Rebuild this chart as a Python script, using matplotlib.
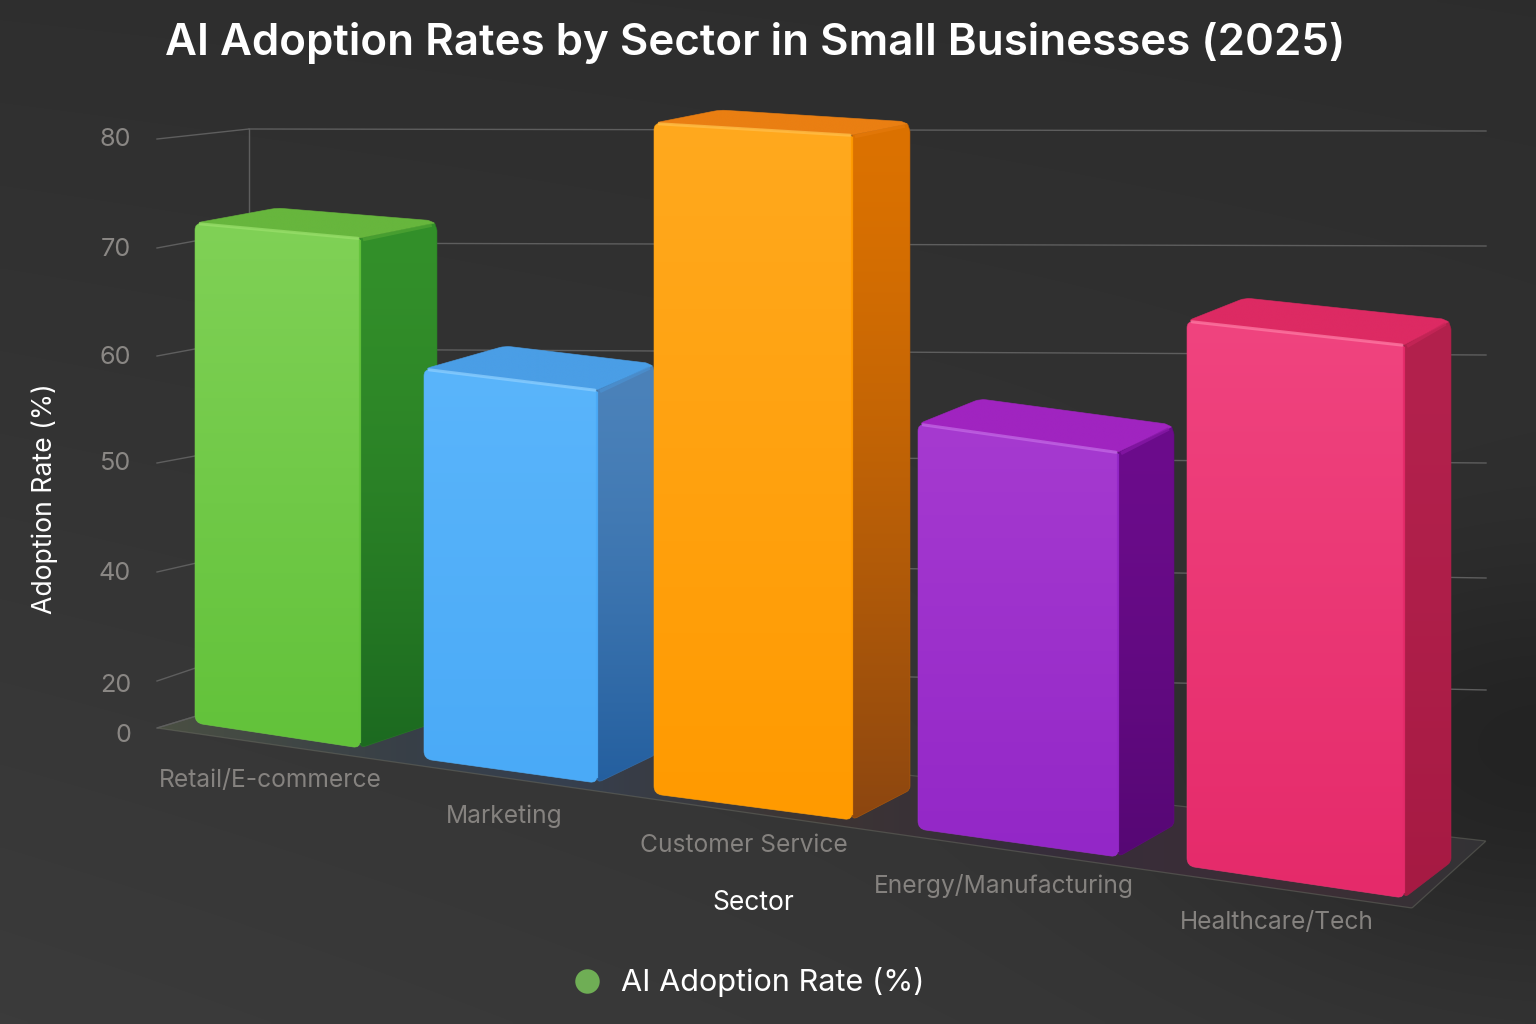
import numpy as np
import matplotlib
matplotlib.use('Agg')
import matplotlib.pyplot as plt
from matplotlib.colors import to_rgb
from matplotlib.patches import PathPatch
from matplotlib.path import Path

plt.rcParams['font.family'] = ['Inter', 'DejaVu Sans']

# chart data
sectors = ['Retail/E-commerce', 'Marketing', 'Customer Service', 'Energy/Manufacturing', 'Healthcare/Tech']
adoption_rates = [72, 58, 82, 53, 63]
tick_labels = ['0', '20', '40', '50', '60', '70', '80']

# bar colours: front top, front bottom, side top, side bottom, top face
front_top = ['#80d156', '#5ab5fb', '#ffa91e', '#a63ad0', '#f0447f']
front_bottom = ['#62c23a', '#4aaaf7', '#ff9a00', '#9327c7', '#e52a6a']
side_top = ['#33902a', '#4b82ba', '#dc7200', '#6c0c8c', '#b3214d']
side_bottom = ['#1c6a20', '#245f9f', '#8c4610', '#560774', '#a61a43']
top_face = ['#67b63d', '#4a9ee6', '#ea7f12', '#a024c0', '#dd2a63']
highlight = ['#9be06c', '#8fd0ff', '#ffc04d', '#c56be6', '#ff7ea6']

# scene layout in pixels, all bars sit on a slanted floor
left_x = [195, 424, 654, 918, 1187]
right_x = [360, 597, 852, 1118, 1404]
side_x = [437, 655, 910, 1174, 1451]
floor_left = [723, 759, 794, 829, 866]
floor_right = [748, 783, 820, 857, 898]
side_floor = [722, 755, 790, 825, 862]
px_per_unit = [6.944, 6.724, 8.183, 7.642, 8.651]
right_stretch = [1.02, 1.008, 1.021, 1.0, 1.015]
top_back_rise = [17, 26, 13, 27, 25]
back_dx = [82, 81, 66, 62, 58]
back_dy = [15, 23, 13, 25, 23]

# gridlines: y at the outer tick, where the side wall meets the back wall, back wall start and end
grid_outer = [728, 681, 572, 463, 356, 248, 139]
grid_corner = [700, 650, 551, 446, 339, 231, 129]
grid_back = [700, 662, 558, 453, 349, 243, 129]
grid_far = [841, 690, 578, 463, 355, 246, 131]
tick_label_y = [733, 683, 572, 462, 355, 247, 138]
category_xy = [(270, 778), (504, 814), (744, 843), (1004, 884), (1277, 921)]
floor_corners = [(157, 728), (249, 700), (1486, 841), (1412, 908)]

W, H = 1536, 1024


def rounded_path(points, radii):
    # closed polygon with quadratic rounded corners
    pts = np.array(points, dtype=float)
    n = len(pts)
    verts, codes = [], []
    for i in range(n):
        p, prev, nxt = pts[i], pts[i - 1], pts[(i + 1) % n]
        r = radii[i]
        a = p + (prev - p) / np.linalg.norm(prev - p) * r
        b = p + (nxt - p) / np.linalg.norm(nxt - p) * r
        verts.append(a)
        codes.append(Path.MOVETO if i == 0 else Path.LINETO)
        verts += [p, b]
        codes += [Path.CURVE3, Path.CURVE3]
    verts.append(verts[0])
    codes.append(Path.CLOSEPOLY)
    return Path(verts, codes)


def fill_face(ax, points, radii, top, bottom, z, power=1.0):
    # gradient image clipped to a rounded face
    path = rounded_path(points, radii)
    xs = [p[0] for p in points]
    ys = [p[1] for p in points]
    t = np.linspace(0, 1, 256)[:, None, None] ** power
    img = (1 - t) * np.array(to_rgb(top)) + t * np.array(to_rgb(bottom))
    im = ax.imshow(img, extent=(min(xs), max(xs), max(ys), min(ys)), aspect='auto',
                   interpolation='bilinear', zorder=z)
    patch = PathPatch(path, fc='none', ec='none', transform=ax.transData)
    ax.add_patch(patch)
    im.set_clip_path(patch)
    # soft edge, clipped images come out jagged otherwise
    mid = tuple((np.array(to_rgb(top)) + np.array(to_rgb(bottom))) / 2)
    ax.add_patch(PathPatch(path, fc='none', ec=mid, lw=0.5, alpha=0.8, zorder=z + 0.01))


def blend(c1, c2, w=0.5):
    return tuple(np.array(to_rgb(c1)) * (1 - w) + np.array(to_rgb(c2)) * w)


fig = plt.figure(figsize=(W / 100, H / 100), dpi=100)
ax = fig.add_axes([0, 0, 1, 1])
ax.axis('off')

# background, lighter towards the lower left and darkest on the right
yy, xx = np.mgrid[0:1:256j, 0:1:384j]
glow = np.clip(0.5 * yy + 0.28 * (1 - xx) * yy + 0.12 * (1 - xx), 0, 1)
dark = np.exp(-(((xx - 1.0) / 0.22) ** 2 + ((yy - 0.74) / 0.2) ** 2))
bg = 0.176 + 0.062 * glow - 0.06 * dark
ax.imshow(np.dstack([bg, bg, bg]), extent=(0, W, H, 0), aspect='auto',
          interpolation='bilinear', zorder=0)

# floor with colour picked up from the bars
floor_path = rounded_path(floor_corners, [1, 1, 1, 1])
floor_stops = [157, 400, 560, 800, 1020, 1300, 1486]
floor_r = [0.29, 0.22, 0.21, 0.24, 0.21, 0.24, 0.20]
floor_g = [0.31, 0.25, 0.25, 0.21, 0.18, 0.18, 0.20]
floor_b = [0.26, 0.28, 0.31, 0.20, 0.23, 0.21, 0.21]
fx = np.linspace(157, 1486, 256)
floor_img = np.dstack([np.interp(fx, floor_stops, c)[None, :] for c in (floor_r, floor_g, floor_b)])
im = ax.imshow(floor_img, extent=(157, 1486, 908, 700), aspect='auto', zorder=1)
floor_patch = PathPatch(floor_path, fc='none', ec='none')
ax.add_patch(floor_patch)
im.set_clip_path(floor_patch)
ax.add_patch(PathPatch(floor_path, fc='none', ec='#6a6c62', lw=0.9, alpha=0.5, zorder=1.2))

# wall and grid lines
line_kw = dict(color='#5e5e5e', lw=1.0, zorder=1.5)
wall_x = 249
for i in range(len(tick_labels)):
    ax.plot([157, wall_x], [grid_outer[i], grid_corner[i]], **line_kw)
    if i > 0:
        ax.plot([wall_x, 1486], [grid_back[i], grid_far[i]], **line_kw)
    ax.text(131, tick_label_y[i] + 2, tick_labels[i], ha='right', va='center',
            fontsize=18.2, color='#8a8784')
ax.plot([wall_x, wall_x], [grid_back[-1], grid_corner[0]], **line_kw)

# bars, drawn from far left to near right so that later ones overlap
for i, value in enumerate(adoption_rates):
    z = 3 + i
    height = value * px_per_unit[i]
    fl_top = np.array([left_x[i], floor_left[i] - height])
    fr_top = np.array([right_x[i], floor_right[i] - height * right_stretch[i]])
    br_top = np.array([side_x[i], fr_top[1] - top_back_rise[i]])
    bl_top = np.array([left_x[i] + back_dx[i], fl_top[1] - back_dy[i]])
    fl_bot = np.array([left_x[i], floor_left[i]])
    fr_bot = np.array([right_x[i], floor_right[i]])
    br_bot = np.array([side_x[i], side_floor[i]])

    # the far right corner is shared, both faces meet on the middle of its curve
    r = 9.0
    on_side = br_top + (br_bot - br_top) / np.linalg.norm(br_bot - br_top) * r
    on_top = br_top + (bl_top - br_top) / np.linalg.norm(bl_top - br_top) * r
    corner = 0.25 * on_side + 0.5 * br_top + 0.25 * on_top

    fill_face(ax, [fr_top, corner, on_side, br_bot, fr_bot], [1, 1, 1, 4, 6],
              side_top[i], side_bottom[i], z + 0.1, power=1.4)
    fill_face(ax, [fl_top, fr_top, corner, on_top, bl_top], [7, 1, 1, 1, 6],
              top_face[i], top_face[i], z + 0.15)
    # soft bevel where the side meets the top
    ax.plot([fr_top[0] + 3, corner[0] - 3], [fr_top[1] + 1.5, corner[1] + 2],
            color=blend(side_top[i], top_face[i], 0.55), lw=2.5, alpha=0.7,
            solid_capstyle='butt', zorder=z + 0.16)
    fill_face(ax, [fl_top, fr_top, fr_bot, fl_bot], [7, 3, 7, 8],
              front_top[i], front_bottom[i], z + 0.2)
    # lit bevels along the front top edge and the front right edge
    ax.plot([fl_top[0] + 5, fr_top[0] - 2], [fl_top[1] + 0.8, fr_top[1] + 0.3],
            color=highlight[i], lw=2.2, alpha=0.7, solid_capstyle='round', zorder=z + 0.3)
    ax.plot([fr_top[0], fr_bot[0]], [fr_top[1] + 3, fr_bot[1] - 6],
            color=front_bottom[i], lw=1.6, alpha=0.9, zorder=z + 0.3)

# axis text
ax.text(165, 43, 'AI Adoption Rates by Sector in Small Businesses (2025)', ha='left', va='center',
        fontsize=31.6, fontweight='semibold', color='white')
ax.text(45, 499, 'Adoption Rate (%)', rotation=90, ha='center', va='center',
        fontsize=19.2, color='white')
ax.text(753, 903, 'Sector', ha='center', va='center', fontsize=19, color='white')
for name, (x, y) in zip(sectors, category_xy):
    ax.text(x, y + 2, name, ha='center', va='center', fontsize=17.7, color='#85827f')

# legend
ax.scatter([587], [981], s=310, color='#6fae55', linewidths=0, zorder=5)
ax.text(621, 982, 'AI Adoption Rate (%)', ha='left', va='center', fontsize=22.1, color='white')

ax.set_xlim(0, W)
ax.set_ylim(H, 0)
fig.savefig('out.png', dpi=100)
